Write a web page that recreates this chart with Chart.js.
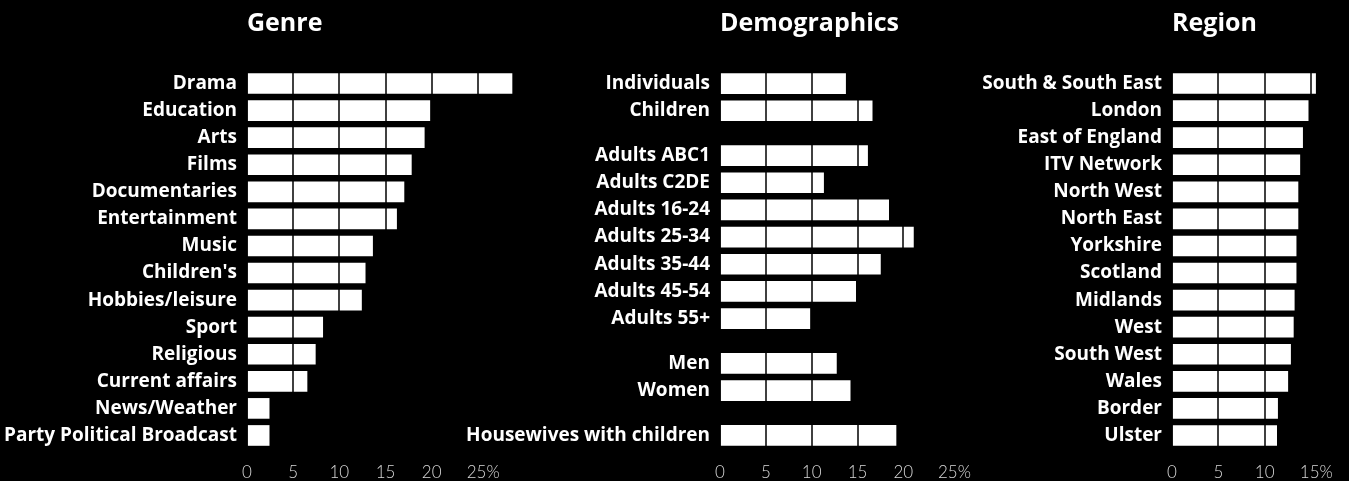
<!DOCTYPE html>
<html>
<head>
<meta charset="utf-8">
<title>Audience share</title>
<script src="https://cdn.jsdelivr.net/npm/chart.js@4.4.1/dist/chart.umd.min.js"></script>
<style>
    html, body {
        margin: 0;
        padding: 0;
        background: #000;
    }
    body {
        position: relative;
        width: 1349px;
        height: 481px;
        overflow: hidden;
    }
    .panel {
        position: absolute;
        top: 0;
        height: 481px;
    }
    #genrePanel { left: 0; width: 524px; }
    #demoPanel { left: 460px; width: 535px; }
    #regionPanel { left: 960px; width: 388px; }
</style>
</head>
<body>
<div class="panel" id="genrePanel"><canvas id="genreChart"></canvas></div>
<div class="panel" id="demoPanel"><canvas id="demoChart"></canvas></div>
<div class="panel" id="regionPanel"><canvas id="regionChart"></canvas></div>

<script>
const genreLabels = ['Drama', 'Education', 'Arts', 'Films', 'Documentaries', 'Entertainment', 'Music',
    "Children's", 'Hobbies/leisure', 'Sport', 'Religious', 'Current affairs', 'News/Weather',
    'Party Political Broadcast'];
const genreValues = [28.7, 19.8, 19.2, 17.8, 17.0, 16.2, 13.6, 12.8, 12.4, 8.2, 7.4, 6.5, 2.4, 2.4];

const demoLabels = ['Individuals', 'Children', 'Adults ABC1', 'Adults C2DE', 'Adults 16-24', 'Adults 25-34',
    'Adults 35-44', 'Adults 45-54', 'Adults 55+', 'Men', 'Women', 'Housewives with children'];
const demoValues = [13.7, 16.6, 16.1, 11.3, 18.4, 21.1, 17.5, 14.8, 9.8, 12.7, 14.2, 19.2];
// a new group of rows starts at these indexes
const demoGroupStarts = [2, 9, 11];

const regionLabels = ['South & South East', 'London', 'East of England', 'ITV Network', 'North West',
    'North East', 'Yorkshire', 'Scotland', 'Midlands', 'West', 'South West', 'Wales', 'Border', 'Ulster'];
const regionValues = [15.5, 14.7, 14.1, 13.8, 13.6, 13.6, 13.4, 13.4, 13.2, 13.1, 12.8, 12.5, 11.4, 11.3];

const GROUP_GAP = 0.65;
const PCT_PAD = '\u2002\u2009';

Chart.defaults.font.family = '"Open Sans", "Noto Sans", sans-serif';
Chart.defaults.animation = false;

function xAxis(max, lastTick) {
    return {
        type: 'linear',
        position: 'bottom',
        min: 0,
        max: max,
        border: { display: false },
        grid: {
            z: 1,
            drawTicks: false,
            color: 'rgba(0, 0, 0, 0.75)',
            lineWidth: 2
        },
        ticks: {
            stepSize: 5,
            autoSkip: false,
            maxRotation: 0,
            padding: 13,
            color: '#d8d8d8',
            font: { family: 'Lato, "Open Sans", sans-serif', size: 17, weight: '300' },
            callback: function(value) {
                if (value > lastTick) return '';
                if (value === lastTick) return PCT_PAD + value + '%';
                return String(value);
            }
        },
        afterFit: (scale) => {
            scale.height = 32;
            scale.paddingLeft = 0;
            scale.paddingRight = 0;
        }
    };
}

function yLabelTicks() {
    return {
        autoSkip: false,
        padding: 10,
        color: '#fff',
        font: { size: 19, weight: 'bold' }
    };
}

function fixLabelWidth(width) {
    return (scale) => {
        scale.width = width;
        scale.paddingTop = 0;
        scale.paddingBottom = 0;
    };
}

function baseOptions(title, xScale, yScale) {
    return {
        indexAxis: 'y',
        responsive: true,
        maintainAspectRatio: false,
        layout: { padding: 0 },
        plugins: {
            legend: { display: false },
            tooltip: { enabled: false },
            title: {
                display: true,
                text: title,
                align: 'start',
                fullSize: false,
                color: '#fff',
                font: { size: 25, weight: 'bold' },
                padding: { top: 9, bottom: 31 }
            }
        },
        scales: {
            x: xScale,
            y: yScale
        }
    };
}

function barDataset(values) {
    return {
        data: values,
        backgroundColor: '#fff',
        borderWidth: 0,
        barThickness: 20
    };
}

function createCategoryChart(canvasId, title, labels, values, labelWidth, max, lastTick) {
    const yScale = {
        type: 'category',
        grid: { display: false, drawTicks: false },
        border: { display: false },
        ticks: yLabelTicks(),
        afterFit: fixLabelWidth(labelWidth)
    };
    return new Chart(document.getElementById(canvasId), {
        type: 'bar',
        data: {
            labels: labels,
            datasets: [barDataset(values)]
        },
        options: baseOptions(title, xAxis(max, lastTick), yScale)
    });
}

function createDemoChart() {
    // row positions with a little extra space between groups
    const rows = [];
    let gaps = 0;
    demoLabels.forEach((label, i) => {
        if (demoGroupStarts.includes(i)) gaps++;
        rows.push(i + gaps * GROUP_GAP);
    });

    const points = demoValues.map((v, i) => ({ x: v, y: rows[i] }));

    const yScale = {
        type: 'linear',
        reverse: true,
        offset: false,
        min: -0.5,
        max: rows[rows.length - 1] + 0.5,
        grid: { display: false, drawTicks: false },
        border: { display: false },
        ticks: Object.assign(yLabelTicks(), {
            callback: (value, index) => demoLabels[index]
        }),
        afterBuildTicks: (scale) => {
            scale.ticks = rows.map(r => ({ value: r }));
        },
        afterFit: fixLabelWidth(260)
    };

    return new Chart(document.getElementById('demoChart'), {
        type: 'bar',
        data: {
            datasets: [barDataset(points)]
        },
        options: baseOptions('Demographics', xAxis(30, 25), yScale)
    });
}

createCategoryChart('genreChart', 'Genre', genreLabels, genreValues, 247, 30, 25);
createDemoChart();
createCategoryChart('regionChart', 'Region', regionLabels, regionValues, 212, 19, 15);
</script>
</body>
</html>
